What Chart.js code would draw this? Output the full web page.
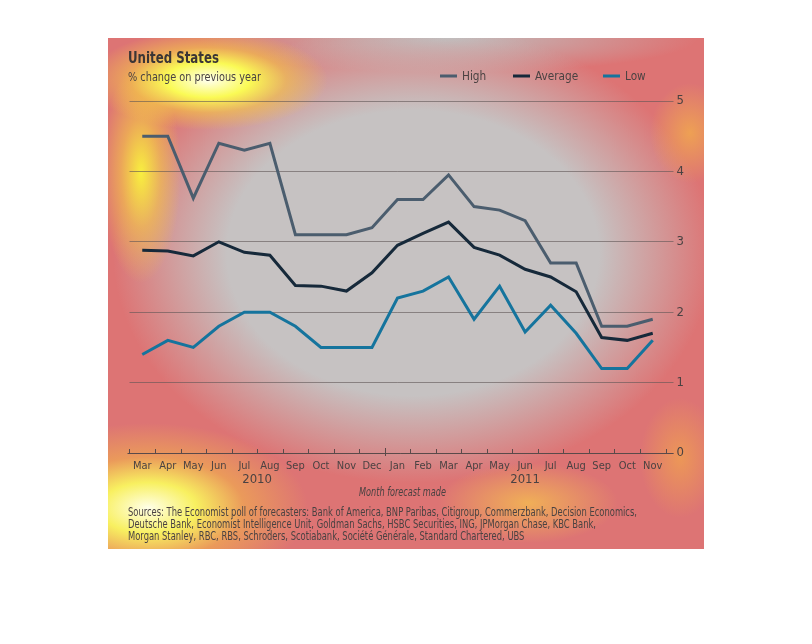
<!DOCTYPE html>
<html>
<head>
<meta charset="utf-8">
<script src="https://cdn.jsdelivr.net/npm/chart.js@4.4.1/dist/chart.umd.min.js"></script>
<style>
html,body{margin:0;padding:0;background:#fff;width:812px;height:644px;overflow:hidden}
#panel{position:absolute;left:108px;top:38px;width:596px;height:511px;
background:
 radial-gradient(ellipse 120px 50px at 100px 42px, #fffff0 0%, #fafa55 35%, rgba(245,200,70,0.6) 65%, rgba(230,110,100,0) 100%),
 radial-gradient(ellipse 40px 110px at 33px 135px, rgba(250,245,60,0.95) 0%, rgba(245,200,70,0.6) 50%, rgba(230,110,100,0) 100%),
 radial-gradient(ellipse 160px 85px at 40px 470px, #ffffe8 0%, #f8f060 30%, rgba(240,170,80,0.7) 60%, rgba(230,110,100,0) 100%),
 radial-gradient(ellipse 90px 40px at 420px 465px, rgba(245,190,80,0.8), rgba(230,110,100,0)),
 radial-gradient(ellipse 40px 50px at 582px 95px, rgba(240,165,80,0.9), rgba(230,110,100,0)),
 radial-gradient(ellipse 40px 60px at 572px 420px, rgba(240,160,80,0.8), rgba(230,110,100,0)),
 radial-gradient(ellipse 300px 230px at 305px 215px, rgba(198,194,194,1) 0%, rgba(198,194,194,1) 62%, rgba(198,194,194,0) 100%),
 radial-gradient(ellipse 250px 35px at 340px 0px, rgba(192,188,188,1), rgba(192,188,188,0)),
 #dd7474;}
canvas{position:absolute;left:0;top:0}
</style>
</head>
<body>
<div id="panel"><canvas id="c" width="596" height="511"></canvas></div>
<script>
const months = ['Mar','Apr','May','Jun','Jul','Aug','Sep','Oct','Nov','Dec','Jan','Feb','Mar','Apr','May','Jun','Jul','Aug','Sep','Oct','Nov'];
const yearLabels = ['2010','2011'];
const yearFirst = [0,10];
const yearLast = [9,20];
const high = [4.5,4.5,3.62,4.4,4.3,4.4,3.1,3.1,3.1,3.2,3.6,3.6,3.95,3.5,3.45,3.3,2.7,2.7,1.8,1.8,1.9];
const average = [2.88,2.87,2.8,3.0,2.85,2.81,2.38,2.37,2.3,2.56,2.95,3.12,3.28,2.92,2.81,2.61,2.5,2.29,1.64,1.6,1.7];
const low = [1.4,1.6,1.5,1.8,2.0,2.0,1.8,1.5,1.5,1.5,2.2,2.3,2.5,1.9,2.37,1.72,2.1,1.7,1.2,1.2,1.6];
const seriesNames = ['High','Average','Low'];
const yMin = 0, yMax = 5, yStep = 1;
const titleText = 'United States';
const subtitleText = '% change on previous year';
const xTitleText = 'Month forecast made';
const sourceLines = [
 'Sources: The Economist poll of forecasters: Bank of America, BNP Paribas, Citigroup, Commerzbank, Decision Economics,',
 'Deutsche Bank, Economist Intelligence Unit, Goldman Sachs, HSBC Securities, ING, JPMorgan Chase, KBC Bank,',
 'Morgan Stanley, RBC, RBS, Schroders, Scotiabank, Société Générale, Standard Chartered, UBS'
];

const FONT = "'DejaVu Sans Condensed','Liberation Sans',sans-serif";
const colors = ['#4b5d6e','#16293a','#15749d'];
const textCol = '#4a4242';

function fitText(ctx, txt, x, y, scale) {
  ctx.save();
  ctx.translate(x, y);
  ctx.scale(scale, 1);
  ctx.fillText(txt, 0, 0);
  ctx.restore();
}

const decor = {
  id: 'decor',
  afterDraw(chart) {
    const ctx = chart.ctx, ca = chart.chartArea, xs = chart.scales.x;
    ctx.save();
    ctx.textBaseline = 'middle';
    ctx.textAlign = 'left';
    // titles
    ctx.fillStyle = '#3b3535';
    ctx.font = "bold 15px " + FONT;
    fitText(ctx, titleText, 20, 21, 91 / ctx.measureText(titleText).width);
    ctx.font = "13px " + FONT;
    ctx.fillStyle = textCol;
    fitText(ctx, subtitleText, 20, 40, 133 / ctx.measureText(subtitleText).width);
    // legend
    const legX = [332, 405, 495];
    ctx.font = "13px " + FONT;
    chart.data.datasets.forEach((ds, i) => {
      ctx.strokeStyle = ds.borderColor;
      ctx.lineWidth = 3;
      ctx.beginPath();
      ctx.moveTo(legX[i], 38); ctx.lineTo(legX[i] + 17, 38); ctx.stroke();
      ctx.fillStyle = textCol;
      fitText(ctx, ds.label, legX[i] + 22, 38.5, 0.9);
    });
    // x axis tick marks at category boundaries
    const n = months.length;
    const w = (ca.right - ca.left) / n;
    ctx.strokeStyle = '#5a4a4a';
    ctx.lineWidth = 1;
    for (let i = 0; i <= n; i++) {
      const x = Math.round(xs.getPixelForValue(Math.min(i, n - 1)) + (i < n ? -w / 2 : w / 2)) + 0.5;
      const isYear = yearFirst.includes(i) && i > 0;
      ctx.beginPath();
      ctx.moveTo(x, ca.bottom - (isYear ? 5 : 4));
      ctx.lineTo(x, ca.bottom + (isYear ? 3 : 0));
      ctx.stroke();
    }
    // baseline
    ctx.beginPath();
    ctx.moveTo(ca.left - 2, Math.round(ca.bottom) + 0.5);
    ctx.lineTo(ca.right + 8, Math.round(ca.bottom) + 0.5);
    ctx.stroke();
    // years
    ctx.fillStyle = textCol;
    ctx.textAlign = 'center';
    ctx.font = "13px " + FONT;
    yearLabels.forEach((y, i) => {
      const cx = (xs.getPixelForValue(yearFirst[i]) + xs.getPixelForValue(yearLast[i])) / 2;
      ctx.fillText(y, cx, ca.bottom + 27);
    });
    ctx.font = "italic 11.5px " + FONT;
    ctx.textAlign = 'left';
    const xtW = ctx.measureText(xTitleText).width, xtS = 87 / xtW;
    fitText(ctx, xTitleText, (ca.left + ca.right) / 2 + 5 - 43.5, ca.bottom + 40, xtS);
    // sources
    ctx.font = "11.5px " + FONT;
    const sS = 509 / ctx.measureText(sourceLines[0]).width;
    sourceLines.forEach((l, i) => fitText(ctx, l, 20, 475 + i * 12, sS));
    ctx.restore();
  }
};

new Chart(document.getElementById('c'), {
  type: 'line',
  data: {
    labels: months,
    datasets: [high, average, low].map((d, i) => ({
      label: seriesNames[i],
      data: d,
      borderColor: colors[i],
      backgroundColor: colors[i],
      borderWidth: 3,
      pointRadius: 0,
      tension: 0,
      fill: false
    }))
  },
  options: {
    responsive: false,
    animation: false,
    devicePixelRatio: 1,
    layout: { padding: { left: 21.5, top: 63, right: 0, bottom: 0 } },
    plugins: { legend: { display: false }, title: { display: false }, tooltip: { enabled: false } },
    scales: {
      x: {
        type: 'category',
        offset: true,
        grid: { display: false, drawTicks: false, tickLength: 0 },
        border: { display: false },
        ticks: { color: textCol, font: { family: FONT, size: 11 }, padding: 7, autoSkip: false, maxRotation: 0 },
        afterFit(a) { a.height = 96; }
      },
      y: {
        position: 'right',
        min: yMin, max: yMax,
        grid: { color: 'rgba(95,85,85,0.6)', lineWidth: 1, drawTicks: true, tickLength: 8 },
        border: { display: false },
        ticks: { stepSize: yStep, color: textCol, font: { family: FONT, size: 13 }, padding: 3 },
        afterFit(a) { a.width = 38.5; }
      }
    }
  },
  plugins: [decor]
});
</script>
</body>
</html>
